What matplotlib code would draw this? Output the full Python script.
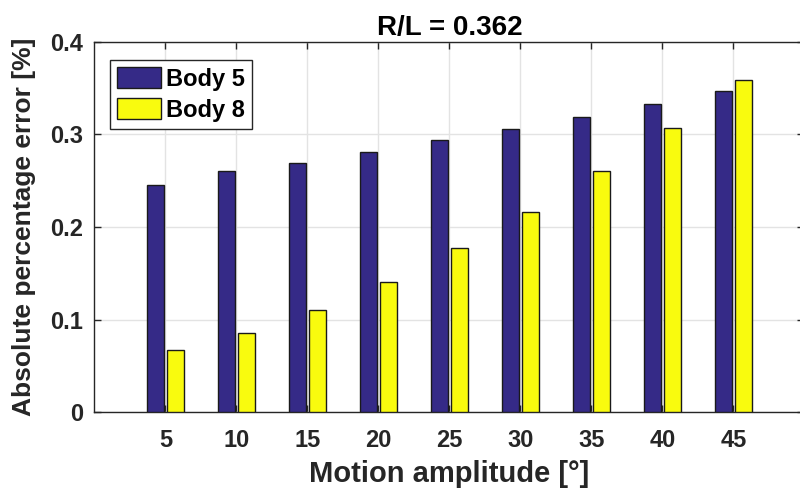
import matplotlib
matplotlib.use("Agg")
import matplotlib.pyplot as plt
import numpy as np

amplitudes = [5, 10, 15, 20, 25, 30, 35, 40, 45]
body5 = [0.2454, 0.2605, 0.2695, 0.2807, 0.2936, 0.3062, 0.3191, 0.3325, 0.3465]
body8 = [0.0671, 0.0858, 0.1102, 0.1411, 0.1774, 0.2166, 0.2602, 0.3072, 0.3584]
yticks = [0, 0.1, 0.2, 0.3, 0.4]
ytick_labels = ["0", "0.1", "0.2", "0.3", "0.4"]

base = "Liberation Sans"

fig = plt.figure(figsize=(8, 4.95), dpi=100)
ax = fig.add_axes([0.118, 0.1667, 0.8876, 0.7491])

x = np.array(amplitudes, dtype=float)
w = 1.16
off = 0.70
c5 = "#352a87"
c8 = "#f9fb0e"
ax.bar(x - off, body5, width=w, color=c5, edgecolor="#1a1a1a", linewidth=1.0, label="Body 5", zorder=3)
ax.bar(x + off, body8, width=w, color=c8, edgecolor="#1a1a1a", linewidth=1.0, label="Body 8", zorder=3)

ax.set_xlim(0, 50)
ax.set_ylim(0, 0.4)
ax.set_xticks(amplitudes)
ax.set_xticklabels([str(a) for a in amplitudes], fontsize=17, fontweight="bold", family=[base, "DejaVu Sans"], color="#262626")
ax.set_yticks(yticks)
ax.set_yticklabels(ytick_labels, fontsize=17, fontweight="bold", family=[base, "DejaVu Sans"], color="#262626")
ax.grid(True, color="#e3e3e3", linewidth=1.0, zorder=0)
ax.set_axisbelow(True)
ax.tick_params(direction="in", length=5, width=1, top=True, right=True, color="#262626")
ax.tick_params(axis="x", pad=12)
ax.tick_params(axis="y", pad=8)
for s in ax.spines.values():
    s.set_color("#262626")
    s.set_linewidth(1.0)

ax.set_xlabel("Motion amplitude [°]", fontsize=21, fontweight="bold", family=[base, "DejaVu Sans"], color="#262626", labelpad=6)
ax.set_ylabel("Absolute percentage error [%]", fontsize=19, fontweight="bold", family=[base, "DejaVu Sans"], color="#262626", labelpad=10)
ax.set_title("R/L = 0.362", fontsize=20, fontweight="bold", family=[base, "DejaVu Sans"], color="#000000", pad=5)

leg = ax.legend(loc="upper left", bbox_to_anchor=(0.0225, 0.95), prop={"family": base, "weight": "bold", "size": 17},
                frameon=True, fancybox=False, edgecolor="#262626", framealpha=1,
                handlelength=1.85, handleheight=1.0, handletextpad=0.2, borderpad=0.3, labelspacing=0.3, borderaxespad=0)
leg.get_frame().set_linewidth(1.0)

fig.savefig("out.png", dpi=100)
